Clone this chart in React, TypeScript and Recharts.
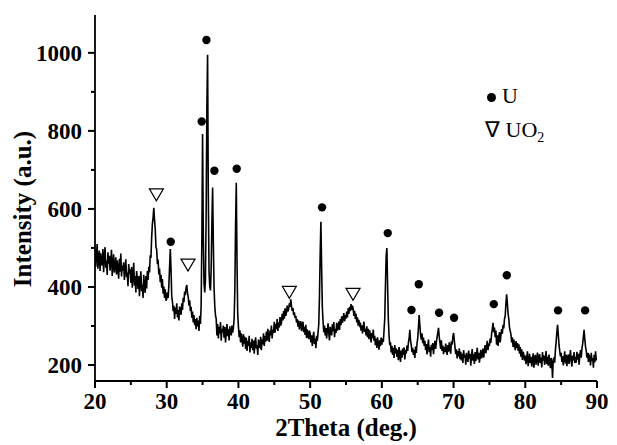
import { ComposedChart, Line, Scatter, XAxis, YAxis } from "recharts";

// XRD pattern, intensity read every 0.1 deg from the picture
const start2Theta = 20;
const step2Theta = 0.1;

const intensity20s = [
  498, 452, 481, 510, 447, 470, 493, 441, 486, 462,
  455, 497, 438, 476, 502, 449, 468, 431, 489, 460,
  480, 442, 466, 495, 428, 459, 484, 437, 451, 476,
  432, 468, 445, 421, 472, 439, 486, 427, 455, 441,
  463, 418, 448, 471, 425, 437, 402, 459, 433, 445,
  410, 451, 398, 432, 462, 403, 428, 386, 441, 419,
  395, 428, 376, 417, 440, 389, 406, 372, 431, 401,
  385, 428, 396, 441, 418, 452, 437, 481, 474, 526,
  561, 578, 603, 572, 548, 502, 497, 458, 470, 432,
  447, 412, 431, 398, 420, 383, 401, 372, 394, 365,
];
const intensity30s = [
  369, 386, 372, 404, 452, 497, 447, 376, 362, 338,
  352, 318, 347, 331, 358, 322, 341, 314, 350, 333,
  329, 358, 341, 372, 361, 388, 379, 398, 405, 384,
  375, 352, 366, 338, 349, 321, 337, 309, 328, 302,
  318, 292, 321, 299, 314, 287, 326, 305, 352, 520,
  792, 535, 410, 386, 418, 590, 860, 995, 640, 440,
  402, 391, 447, 563, 655, 514, 398, 352, 327, 318,
  276, 305, 268, 298, 281, 310, 262, 293, 284, 301,
  270, 297, 258, 286, 305, 274, 292, 263, 299, 281,
  276, 301, 283, 296, 318, 392, 555, 667, 468, 331,
];
const intensity40s = [
  298, 271, 289, 258, 281, 266, 247, 279, 255, 272,
  241, 270, 236, 262, 249, 275, 232, 258, 244, 267,
  238, 263, 229, 257, 271, 242, 251, 226, 265, 247,
  245, 272, 238, 266, 253, 281, 249, 274, 260, 286,
  262, 293, 271, 259, 289, 276, 301, 268, 290, 282,
  311, 283, 305, 292, 318, 287, 309, 296, 323, 301,
  308, 331, 314, 338, 319, 345, 326, 334, 352, 337,
  343, 358, 349, 368, 351, 339, 346, 328, 335, 321,
  326, 309, 318, 298, 314, 291, 305, 312, 287, 302,
  311, 284, 298, 277, 303, 269, 291, 279, 266, 288,
];
const intensity50s = [
  281, 258, 276, 249, 270, 285, 254, 268, 243, 275,
  262, 283, 304, 376, 485, 567, 452, 348, 312, 284,
  301, 276, 295, 268, 289, 307, 281, 263, 298, 285,
  276, 304, 287, 310, 271, 293, 282, 308, 288, 297,
  311, 290, 318, 302, 325, 308, 321, 333, 312, 328,
  319, 337, 322, 345, 331, 349, 338, 356, 341, 352,
  344, 326, 339, 318, 331, 309, 322, 301, 316, 297,
  309, 288, 302, 281, 297, 311, 285, 293, 276, 299,
  271, 293, 266, 289, 278, 258, 282, 269, 291, 262,
  275, 251, 268, 244, 271, 256, 239, 263, 248, 270,
];
const intensity60s = [
  252, 268, 259, 287, 318, 404, 478, 500, 405, 318,
  276, 251, 258, 232, 249, 226, 244, 218, 251, 230,
  243, 221, 239, 212, 246, 228, 208, 237, 219, 242,
  226, 245, 214, 238, 229, 250, 236, 257, 268, 290,
  262, 251, 233, 244, 226, 239, 218, 247, 231, 255,
  268, 296, 328, 301, 277, 265, 281, 256, 270, 249,
  262, 238, 254, 227, 248, 265, 233, 246, 221, 252,
  239, 256, 228, 247, 262, 241, 258, 271, 283, 295,
  272, 258, 241, 263, 236, 250, 228, 246, 233, 255,
  239, 226, 251, 234, 258, 243, 229, 261, 252, 272,
];
const intensity70s = [
  282, 264, 245, 228, 240, 217, 236, 222, 243, 215,
  234, 212, 229, 205, 238, 219, 226, 201, 231, 214,
  208, 237, 216, 229, 198, 224, 241, 211, 228, 203,
  233, 210, 226, 244, 214, 231, 206, 222, 239, 217,
  227, 242, 219, 236, 251, 230, 247, 262, 238, 255,
  249, 268, 257, 279, 291, 308, 284, 296, 271, 288,
  252, 276, 249, 270, 284, 258, 276, 292, 280, 303,
  294, 318, 326, 357, 381, 358, 332, 318, 296, 287,
  279, 258, 271, 246, 265, 252, 238, 261, 244, 256,
  237, 253, 229, 246, 221, 240, 213, 234, 226, 211,
];
const intensity80s = [
  224, 202, 218, 235, 197, 213, 229, 205, 221, 196,
  209, 230, 193, 217, 226, 201, 214, 232, 198, 220,
  228, 205, 219, 194, 233, 211, 224, 200, 216, 236,
  203, 221, 198, 227, 210, 192, 218, 205, 167, 214,
  219, 206, 238, 259, 284, 303, 278, 252, 236, 222,
  231, 208, 222, 199, 217, 235, 204, 226, 197, 218,
  227, 203, 219, 238, 210, 196, 224, 212, 233, 205,
  221, 206, 234, 214, 229, 201, 225, 238, 219, 243,
  254, 272, 290, 266, 247, 236, 219, 231, 208, 225,
  222, 199, 231, 210, 218, 193, 226, 207, 235, 212,
  220,
];

// peak markers
const uPeaks = [
  { t: 30.56, v: 516 },
  { t: 34.88, v: 824 },
  { t: 35.54, v: 1033 },
  { t: 36.65, v: 698 },
  { t: 39.76, v: 703 },
  { t: 51.66, v: 604 },
  { t: 60.82, v: 538 },
  { t: 64.13, v: 341 },
  { t: 65.15, v: 407 },
  { t: 67.98, v: 334 },
  { t: 70.07, v: 321 },
  { t: 75.61, v: 356 },
  { t: 77.42, v: 430 },
  { t: 84.57, v: 340 },
  { t: 88.34, v: 340 },
];
const uo2Peaks = [
  { t: 28.56, v: 636 },
  { t: 32.97, v: 456 },
  { t: 47.1, v: 386 },
  { t: 55.98, v: 381 },
];

const xTicks = [20, 25, 30, 35, 40, 45, 50, 55, 60, 65, 70, 75, 80, 85, 90];
const yTicks = [200, 300, 400, 500, 600, 700, 800, 900, 1000];

const intensity = [
  ...intensity20s,
  ...intensity30s,
  ...intensity40s,
  ...intensity50s,
  ...intensity60s,
  ...intensity70s,
  ...intensity80s,
];
const data = intensity.map((v, i) => ({
  t: Math.round((start2Theta + i * step2Theta) * 10) / 10,
  v,
}));

const FONT = "'Liberation Serif', 'Times New Roman', serif";

// tick marks drawn here, x/y is the point on the axis line (tickSize 0)
const XTick = (props: any) => {
  const { x, y, payload } = props;
  const major = payload.value % 10 === 0;
  return (
    <g>
      <rect x={x - 1} y={y} width={2} height={major ? 7 : 4} fill="#000" />
      {major && (
        <text x={x} y={y + 28} textAnchor="middle" fontFamily={FONT} fontWeight="bold" fontSize={23} fill="#000">
          {payload.value}
        </text>
      )}
    </g>
  );
};

const YTick = (props: any) => {
  const { x, y, payload } = props;
  const major = payload.value % 200 === 0;
  return (
    <g>
      <rect x={x - (major ? 7 : 4)} y={y - 1} width={major ? 7 : 4} height={2} fill="#000" />
      {major && (
        <text x={x - 13} y={y + 8} textAnchor="end" fontFamily={FONT} fontWeight="bold" fontSize={23} fill="#000">
          {payload.value}
        </text>
      )}
    </g>
  );
};

const Dot = (props: any) => <circle cx={props.cx} cy={props.cy} r={4.2} fill="#000" />;
const Tri = (props: any) => {
  const { cx, cy } = props;
  return (
    <path
      d={`M${cx - 7},${cy - 6} L${cx + 7},${cy - 6} L${cx},${cy + 6} Z`}
      fill="#fff"
      stroke="#000"
      strokeWidth={1.2}
    />
  );
};

const App = () => {
  return (
    <div style={{ position: "absolute", left: 0, top: 0, width: 617, height: 445, background: "#fff" }}>
      <ComposedChart width={617} height={445} data={data} margin={{ top: 15, right: 20, bottom: 0, left: 0 }}>
        <XAxis
          dataKey="t"
          type="number"
          domain={[20, 90]}
          ticks={xTicks}
          allowDataOverflow
          height={64}
          tickSize={0}
          tickMargin={0}
          tick={<XTick />}
          tickLine={false}
          axisLine={{ stroke: "#000", strokeWidth: 1.8 }}
          label={{
            value: "2Theta (deg.)",
            position: "insideBottom",
            offset: 9,
            style: { fontFamily: FONT, fontWeight: "bold", fontSize: 25, fill: "#000" },
          }}
        />
        <XAxis
          xAxisId="top"
          orientation="top"
          type="number"
          domain={[20, 90]}
          height={0}
          tick={false}
          tickLine={false}
          axisLine={{ stroke: "#000", strokeWidth: 1.8 }}
        />
        <YAxis
          type="number"
          domain={[159, 1097]}
          ticks={yTicks}
          allowDataOverflow
          width={95}
          tickSize={0}
          tickMargin={0}
          tick={<YTick />}
          tickLine={false}
          axisLine={{ stroke: "#000", strokeWidth: 1.8 }}
          label={{
            value: "Intensity (a.u.)",
            angle: -90,
            position: "center",
            dx: -25,
            dy: 11,
            style: { fontFamily: FONT, fontWeight: "bold", fontSize: 25, fill: "#000", textAnchor: "middle" },
          }}
        />
        <YAxis
          yAxisId="right"
          orientation="right"
          type="number"
          domain={[159, 1097]}
          width={0}
          tick={false}
          tickLine={false}
          axisLine={{ stroke: "#000", strokeWidth: 1.8 }}
        />
        <Line
          type="linear"
          dataKey="v"
          stroke="#000"
          strokeWidth={1.6}
          dot={false}
          activeDot={false}
          isAnimationActive={false}
        />
        <Scatter data={uPeaks} dataKey="v" shape={<Dot />} isAnimationActive={false} />
        <Scatter data={uo2Peaks} dataKey="v" shape={<Tri />} isAnimationActive={false} />
      </ComposedChart>
      <div style={{ position: "absolute", left: 487, top: 84, fontFamily: FONT, fontSize: 22, lineHeight: "24px", color: "#000" }}>
        <span style={{ display: "inline-block", width: 9, height: 9, borderRadius: "50%", background: "#000", marginRight: 6, verticalAlign: "middle" }} />
        U
      </div>
      <div style={{ position: "absolute", left: 485, top: 118, fontFamily: FONT, fontSize: 22, lineHeight: "24px", color: "#000" }}>
        ∇ UO<sub style={{ fontSize: 14 }}>2</sub>
      </div>
    </div>
  );
};

export default App;
